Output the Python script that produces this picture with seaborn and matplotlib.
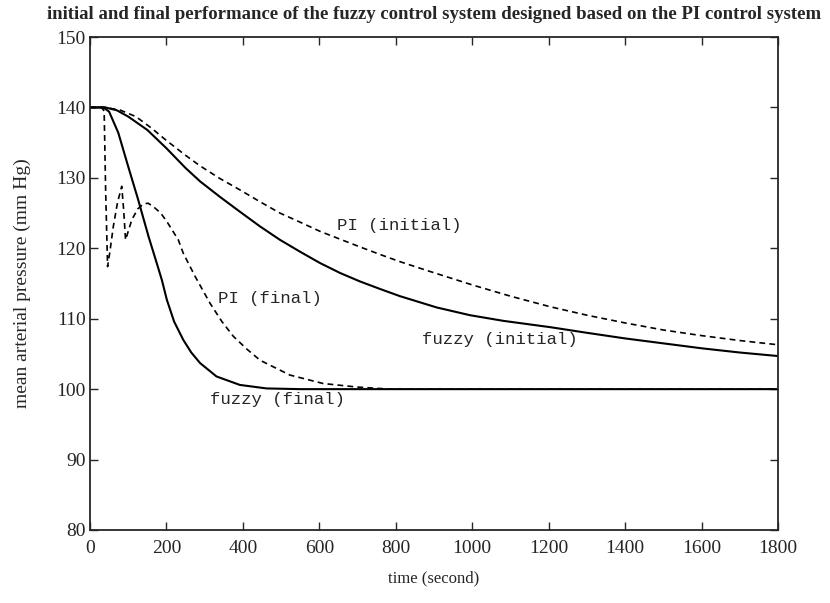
"""
Initial and final response of the fuzzy and PI controllers (mean arterial pressure).
"""

import matplotlib
matplotlib.use('Agg')
import matplotlib.pyplot as plt
import numpy as np
import pandas as pd
import seaborn as sns

# values
pi_init_t = [0, 40, 80, 120, 160, 200, 250, 288, 340, 392, 445, 497, 550, 602,
             654, 706, 760, 811, 890, 1000, 1100, 1204, 1300, 1400, 1500, 1600,
             1700, 1800]
pi_init_v = [140, 140, 139.6, 138.7, 137.1, 135.3, 133.2, 131.7, 129.9, 128.3,
             126.6, 125.0, 123.7, 122.4, 121.3, 120.2, 119.1, 118.1, 116.7,
             114.8, 113.2, 111.7, 110.5, 109.4, 108.4, 107.6, 106.9, 106.3]

fz_init_t = [0, 40, 70, 100, 150, 200, 250, 288, 340, 392, 445, 497, 550, 602,
             654, 706, 760, 811, 907, 994, 1081, 1204, 1300, 1400, 1500, 1600,
             1700, 1800]
fz_init_v = [140, 140, 139.6, 138.7, 136.8, 134.2, 131.4, 129.5, 127.3, 125.2,
             123.1, 121.2, 119.5, 117.9, 116.5, 115.3, 114.2, 113.2, 111.6,
             110.5, 109.7, 108.8, 108.0, 107.2, 106.5, 105.8, 105.2, 104.7]

pi_fin_t = [0, 30, 37, 41, 46, 52, 61, 72, 83, 88, 93, 100, 109, 125, 140, 152,
            166, 185, 201, 231, 244, 275, 314, 345, 375, 410, 445, 523, 610,
            698, 785, 900, 1200, 1500, 1800]
pi_fin_v = [140, 140, 139.5, 128, 117.4, 119.5, 123.1, 126.5, 128.8, 125.5,
            121.2, 122.4, 124.0, 125.6, 126.3, 126.4, 125.9, 125.0, 123.8,
            121.2, 119.3, 116.0, 112.2, 109.6, 107.5, 105.7, 104.1, 102.0,
            100.8, 100.3, 100.0, 100.0, 100.0, 100.0, 100.0]

fz_fin_t = [0, 35, 50, 74, 100, 126, 153, 174, 188, 201, 220, 244, 265, 288,
            331, 392, 462, 550, 700, 1000, 1400, 1800]
fz_fin_v = [140, 140, 139.4, 136.4, 131.6, 126.9, 121.7, 118.0, 115.5, 112.7,
            109.6, 107.0, 105.2, 103.7, 101.8, 100.6, 100.1, 100.0, 100.0,
            100.0, 100.0, 100.0]

x_ticks = [0, 200, 400, 600, 800, 1000, 1200, 1400, 1600, 1800]
y_ticks = [80, 90, 100, 110, 120, 130, 140, 150]

curve_labels = [
    ('PI (initial)', 646, 123.3),
    ('fuzzy (initial)', 869, 107.0),
    ('PI (final)', 335, 112.8),
    ('fuzzy (final)', 314, 98.6),
]

sns.set_style('ticks')
plt.rcParams['font.family'] = ['Liberation Serif', 'DejaVu Serif']
plt.rcParams['xtick.direction'] = 'in'
plt.rcParams['ytick.direction'] = 'in'
plt.rcParams['xtick.top'] = True
plt.rcParams['ytick.right'] = True
plt.rcParams['axes.linewidth'] = 1.3

fig = plt.figure(figsize=(8.3, 6.03), dpi=100)
ax = fig.add_axes([90 / 830, 1 - 530 / 603, 688 / 830, 493 / 603])

solid = dict(color='black', linewidth=1.5)
dashed = dict(color='black', linewidth=1.2, linestyle=(0, (3.5, 2.5)))

sns.lineplot(x=pi_init_t, y=pi_init_v, ax=ax, **dashed)
sns.lineplot(x=fz_init_t, y=fz_init_v, ax=ax, **solid)
sns.lineplot(x=pi_fin_t, y=pi_fin_v, ax=ax, **dashed)
sns.lineplot(x=fz_fin_t, y=fz_fin_v, ax=ax, **solid)

for text, tx, ty in curve_labels:
    ax.text(tx, ty, text, family='Liberation Mono', fontsize=12.5,
            va='center', ha='left')

ax.set_xlim(0, 1800)
ax.set_ylim(80, 150)
ax.set_xticks(x_ticks)
ax.set_yticks(y_ticks)
ax.tick_params(length=6, width=1, labelsize=14, pad=3)
ax.tick_params(axis='x', pad=7)
for side in ['top', 'right']:
    ax.spines[side].set_visible(True)

ax.set_xlabel('time (second)', fontsize=12, labelpad=10)
ax.set_ylabel('mean arterial pressure (mm Hg)', fontsize=14, labelpad=18)
fig.text(0.523, 0.99, 'initial and final performance of the fuzzy control system '
         'designed based on the PI control system',
         ha='center', va='top', fontsize=13.5, fontweight='bold')

fig.savefig('out.png', dpi=100)
plt.close(fig)
